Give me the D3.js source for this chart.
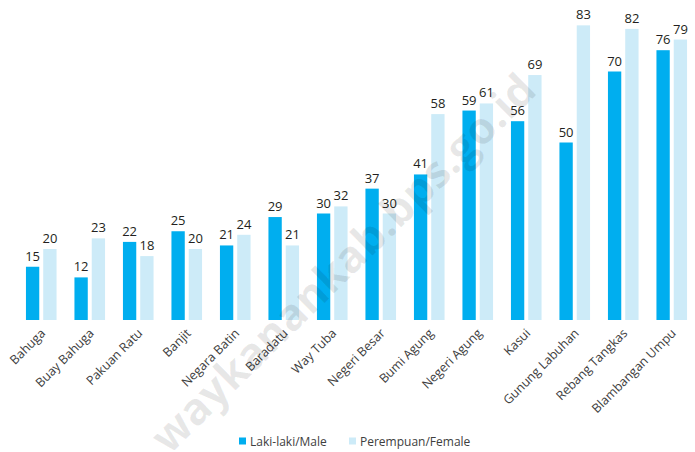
<!DOCTYPE html>
<html>
<head>
<meta charset="utf-8">
<script src="https://cdn.jsdelivr.net/npm/d3@7"></script>
<style>
  body { margin: 0; background: #fff; }
  svg { display: block; font-family: "Open Sans", "Noto Sans", sans-serif; }
</style>
</head>
<body>
<div id="chart"></div>
<script>
const categories = ["Bahuga", "Buay Bahuga", "Pakuan Ratu", "Banjit", "Negara Batin", "Baradatu",
  "Way Tuba", "Negeri Besar", "Bumi Agung", "Negeri Agung", "Kasui", "Gunung Labuhan",
  "Rebang Tangkas", "Blambangan Umpu"];
const male = [15, 12, 22, 25, 21, 29, 30, 37, 41, 59, 56, 50, 70, 76];
const female = [20, 23, 18, 20, 24, 21, 32, 30, 58, 61, 69, 83, 82, 79];
const seriesNames = ["Laki-laki/Male", "Perempuan/Female"];
const seriesColors = ["#00aeef", "#cdebf8"];

const width = 695, height = 452;
const baseY = 320;

const svg = d3.select("#chart").append("svg")
  .attr("width", width)
  .attr("height", height);

const x = d3.scaleBand()
  .domain(categories)
  .range([17, 696])
  .paddingInner(0)
  .paddingOuter(0);

const xSub = d3.scaleBand()
  .domain([0, 1])
  .range([x.bandwidth() / 2 - 15.3, x.bandwidth() / 2 + 15.3])
  .paddingInner(0.23);

const y = d3.scaleLinear()
  .domain([0, 90])
  .range([baseY, 0.5]);

const rows = categories.map((c, i) => ({ cat: c, vals: [male[i], female[i]] }));

const groups = svg.selectAll("g.group")
  .data(rows)
  .enter().append("g")
  .attr("class", "group")
  .attr("transform", d => "translate(" + x(d.cat) + ",0)");

groups.selectAll("rect")
  .data(d => d.vals.map((v, s) => ({ v: v, s: s })))
  .enter().append("rect")
  .attr("x", d => xSub(d.s))
  .attr("width", xSub.bandwidth())
  .attr("y", d => y(d.v))
  .attr("height", d => baseY - y(d.v))
  .style("fill", d => seriesColors[d.s]);

groups.selectAll("text.val")
  .data(d => d.vals.map((v, s) => ({ v: v, s: s })))
  .enter().append("text")
  .attr("class", "val")
  .attr("x", d => xSub(d.s) + xSub.bandwidth() / 2)
  .attr("y", d => y(d.v) - 6)
  .attr("text-anchor", "middle")
  .style("font-size", "13px")
  .style("fill", "#231f20")
  .text(d => d.v);

// category labels
svg.selectAll("text.cat")
  .data(categories)
  .enter().append("text")
  .attr("class", "cat")
  .attr("text-anchor", "end")
  .attr("transform", d => "translate(" + (x(d) + x.bandwidth() / 2 + 5) + "," + 334 + ") rotate(-45)")
  .style("font-size", "12.5px")
  .style("fill", "#404040")
  .text(d => d);

// legend
const legendX = [239, 349];
const legend = svg.selectAll("g.legend")
  .data(seriesNames)
  .enter().append("g")
  .attr("class", "legend")
  .attr("transform", (d, i) => "translate(" + legendX[i] + ",437)");

legend.append("rect")
  .attr("width", 7)
  .attr("height", 7)
  .attr("y", 0.5)
  .style("fill", (d, i) => seriesColors[i]);

legend.append("text")
  .attr("x", 11)
  .attr("y", 9)
  .style("font-size", "12px")
  .style("fill", "#404040")
  .text(d => d);

// watermark, drawn over the chart
svg.append("text")
  .attr("transform", "translate(342,262) rotate(-44.5)")
  .attr("text-anchor", "middle")
  .attr("dominant-baseline", "central")
  .style("font-size", "44px")
  .style("font-weight", "bold")
  .style("fill", "#000")
  .style("fill-opacity", 0.09)
  .text("waykanankab.bps.go.id");
</script>
</body>
</html>
